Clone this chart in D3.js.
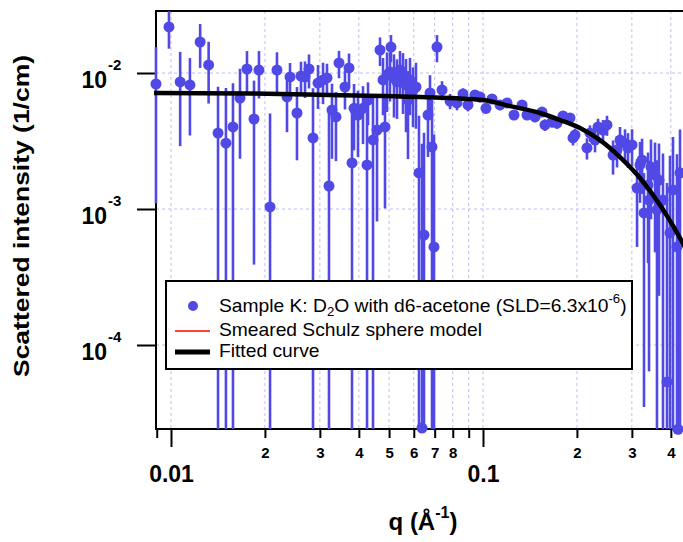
<!DOCTYPE html>
<html><head><meta charset="utf-8">
<script src="https://cdn.jsdelivr.net/npm/d3@7"></script>
<style>
body{margin:0;background:#fff}
svg{display:block}
text{font-family:"Liberation Sans",Arial,Helvetica,sans-serif}
</style>
</head><body>
<svg id="c" width="683" height="542"></svg>
<script>
// ---- data ----
const qVals = [0.00895,0.00985,0.0107,0.0115,0.0124,0.0132,0.01415,0.0150,0.0158,0.01664,
0.01752,0.01845,0.01914,0.02077,0.02186,0.02354,0.02407,0.02534,0.0261,0.02689,
0.02769,0.02852,0.02959,0.03071,0.03162,0.03209,0.03281,0.03379,0.03455,0.03611,
0.0372,0.03803,0.0386,0.03975,0.04125,0.04249,0.0428,0.04441,0.04574,0.04677,
0.04781,0.04852,0.04924,0.05034,0.05071,0.05185,0.05301,0.0542,0.05541,0.05665,
0.05749,0.05834,0.05965,0.06098,0.06235,0.06375,0.0647,0.06664,0.06763,0.06864,
0.06966,0.07122,0.07391,0.0784,0.08254,0.08627,0.08953,0.09428,0.09781,0.1022,
0.1069,0.1134,0.1194,0.1257,0.1334,0.1384,0.1468,0.1546,0.158,0.1664,
0.1727,0.1805,0.19,0.1943,0.1972,0.2154,0.2202,0.2286,0.2337,0.2425,
0.2497,0.2611,0.2689,0.2749,0.2852,0.2916,0.3004,0.3117,0.3186,0.3234,
0.3281,0.338,0.3405,0.3455,0.3559,0.3611,0.3665,0.3775,0.3888,0.3975,
0.4064,0.4186,0.4217,0.428];
const iVals = [0.0083,0.0218,0.0086,0.00817,0.0169,0.01146,0.00362,0.00305,0.00401,0.00654,
0.0107,0.00459,0.0105,0.001035,0.0105,0.00667,0.00935,0.00508,0.0095,0.00935,
0.0107,0.00333,0.00844,0.0089,0.0092,0.001476,0.00534,0.00475,0.01185,0.00789,
0.0109,0.00218,0.0055,0.00491,0.0055,0.00211,0.00633,0.00322,0.00381,0.01476,
0.00889,0.00401,0.00967,0.01017,0.0155,0.0092,0.0086,0.0105,0.0095,0.00817,
0.00633,0.0089,0.0075,0.00789,0.00184,0.0000245,0.000644,0.00491,0.00713,0.00286,
0.000526,0.0155,0.0075,0.00622,0.00602,0.00701,0.00582,0.00689,0.00667,0.0055,
0.00644,0.00582,0.00602,0.00491,0.00582,0.00491,0.00475,0.00516,0.00415,0.00437,
0.00428,0.00483,0.00467,0.00333,0.0035,0.00281,0.00362,0.00321,0.00401,0.00381,
0.00415,0.00249,0.00272,0.00321,0.00305,0.00281,0.00296,0.001426,0.00211,0.00229,
0.000935,0.0015,0.001164,0.00204,0.00178,0.000984,0.00163,0.001164,0.0000535,0.000667,
0.00138,0.000526,0.000024,0.00184];
const sigVals = [0.0072,0.0067,0.0057,0.0047,0.006,0.0055,0.0043,0.0047,0.0044,0.0042,
0.0038,0.0042,0.004,0.004,0.0037,0.003,0.0025,0.0028,0.0026,0.0028,
0.003,0.0044,0.003,0.003,0.0025,0.0039,0.003,0.0025,0.0027,0.0025,
0.003,0.003,0.0028,0.0025,0.0025,0.003,0.0022,0.0035,0.003,0.0035,
0.004,0.003,0.0045,0.004,0.0035,0.0045,0.004,0.004,0.0045,0.0045,
0.004,0.004,0.0035,0.004,0.003,0.003,0.003,0.0025,0.0025,0.0035,
0.003,0.0035,0.0012,0.0008,0.0007,0.0007,0.0006,0.0006,0.0006,0.0005,
0.0005,0.0005,0.0005,0.0004,0.0004,0.0004,0.0004,0.0004,0.0004,0.0004,
0.0004,0.0004,0.0004,0.0004,0.0004,0.0005,0.0005,0.0006,0.0006,0.0007,
0.0007,0.0007,0.0007,0.0008,0.0008,0.0008,0.0009,0.0009,0.001,0.001,
0.0009,0.0011,0.0011,0.0012,0.0013,0.0013,0.0014,0.0014,0.0015,0.0018,
0.002,0.002,0.002,0.002];

const fitQ = [0.0088,0.0179,0.0323,0.0628,0.1,0.122,0.1523,0.1766,0.2046,0.2371,0.2748,0.3186,0.3693,0.428,0.445];
const fitI = [0.00713,0.00707,0.00689,0.00666,0.00632,0.00571,0.00508,0.00451,0.00394,0.00321,0.00241,0.00169,0.00107,0.000612,0.00052];

const xMajorTicks = [0.01, 0.1];
const xMajorLabels = ["0.01", "0.1"];
const xMinorTicks = [0.009,0.02,0.03,0.04,0.05,0.06,0.07,0.08,0.09,0.2,0.3,0.4];
const xMinorLabels = ["","2","3","4","5","6","7","8","","2","3","4"];
const yTicks = [1e-2, 1e-3, 1e-4];
const yTickBase = "10";
const yTickExps = ["-2", "-3", "-4"];

const yTitle = "Scattered intensity (1/cm)";
const xTitleMain = "q (Å";
const xTitleSup = "-1";
const legendNames = ["Sample K: D", "Smeared Schulz sphere model", "Fitted curve"];

// ---- layout ----
const svg = d3.select("#c");
const L = 156, R = 683, T = 11, B = 429;
const x = d3.scaleLog().domain([0.01, 0.1]).range([171, 483]);
const y = d3.scaleLog().domain([1e-2, 1e-4]).range([73, 345]);
const blue = "#5049e6";
const gridCol = "#bcbcff";

// grid
const grid = svg.append("g");
grid.selectAll("line.vx").data(xMajorTicks.concat(xMinorTicks.filter(d=>d>0.0095))).enter()
  .append("line").attr("x1", d=>x(d)).attr("x2", d=>x(d)).attr("y1", T).attr("y2", B)
  .attr("stroke", gridCol).attr("stroke-width", 1).attr("stroke-dasharray", "3,3");
grid.selectAll("line.hy").data(yTicks).enter()
  .append("line").attr("x1", L).attr("x2", R).attr("y1", d=>y(d)).attr("y2", d=>y(d))
  .attr("stroke", gridCol).attr("stroke-width", 1).attr("stroke-dasharray", "3,3");

// axes
const axMinor = svg.append("g").attr("transform", `translate(0,${B})`)
  .call(d3.axisBottom(x).tickValues(xMinorTicks).tickSize(9).tickPadding(9)
        .tickFormat((d,i)=>xMinorLabels[i]));
axMinor.select(".domain").remove();
axMinor.selectAll("line").attr("stroke","#000").attr("stroke-width",2);
axMinor.selectAll("text").attr("font-size",15).attr("font-weight","bold").attr("fill","#000")
  .style("font-family",'"Liberation Sans",Arial,sans-serif');

const axMajor = svg.append("g").attr("transform", `translate(0,${B})`)
  .call(d3.axisBottom(x).tickValues(xMajorTicks).tickSize(18).tickPadding(19)
        .tickFormat((d,i)=>xMajorLabels[i]));
axMajor.select(".domain").remove();
axMajor.selectAll("line").attr("stroke","#000").attr("stroke-width",2);
axMajor.selectAll("text").attr("font-size",23).attr("font-weight","bold").attr("fill","#000")
  .style("font-family",'"Liberation Sans",Arial,sans-serif');

const axY = svg.append("g").attr("transform", `translate(${L},0)`)
  .call(d3.axisLeft(y).tickValues(yTicks).tickSize(19).tickFormat(""));
axY.select(".domain").remove();
axY.selectAll("line").attr("stroke","#000").attr("stroke-width",2);
const yl = svg.append("g").attr("font-weight","bold").attr("fill","#000");
yTicks.forEach((v,i)=>{
  yl.append("text").attr("x",107).attr("y",y(v)+15).attr("text-anchor","end")
    .attr("font-size",23).text(yTickBase);
  yl.append("text").attr("x",108).attr("y",y(v)-3).attr("text-anchor","start")
    .attr("font-size",15).text(yTickExps[i]);
});

// frame lines
const frame = svg.append("g").attr("stroke","#000").attr("stroke-width",2);
frame.append("line").attr("x1",L).attr("x2",L).attr("y1",T-1).attr("y2",B+1);
frame.append("line").attr("x1",L-1).attr("x2",R).attr("y1",B).attr("y2",B);
frame.append("line").attr("x1",L-1).attr("x2",R).attr("y1",T).attr("y2",T);

// titles
svg.append("text").attr("transform","translate(29,216) rotate(-90)")
  .attr("text-anchor","middle").attr("font-size",22).attr("font-weight","bold")
  .attr("textLength",322).attr("lengthAdjust","spacingAndGlyphs").text(yTitle);
const xt = svg.append("text").attr("x",423).attr("y",530).attr("text-anchor","middle")
  .attr("font-size",24).attr("font-weight","bold");
xt.append("tspan").text(xTitleMain);
xt.append("tspan").attr("font-size",16).attr("dy",-12).text(xTitleSup);
xt.append("tspan").attr("dy",12).text(")");

// data
svg.append("clipPath").attr("id","pc").append("rect")
  .attr("x",L-2).attr("y",T).attr("width",R-L+2).attr("height",B-T);
const data = qVals.map((q,i)=>({q, I:iVals[i], s:sigVals[i]}));
const dg = svg.append("g");
dg.append("g").attr("clip-path","url(#pc)").selectAll("line").data(data).enter().append("line")
  .attr("x1",d=>x(d.q)).attr("x2",d=>x(d.q))
  .attr("y1",d=>y(d.I+d.s))
  .attr("y2",d=> (d.I-d.s) > 0 ? y(d.I-d.s) : B+5)
  .attr("stroke",blue).attr("stroke-width",2.6);
dg.append("g").selectAll("circle").data(data).enter().append("circle")
  .attr("cx",d=>x(d.q)).attr("cy",d=>y(d.I)).attr("r",5.5).attr("fill",blue);

// fitted curve
const line = d3.line().x((d,i)=>x(fitQ[i])).y((d,i)=>y(fitI[i])).curve(d3.curveMonotoneX);
svg.append("g").attr("clip-path","url(#pc)").append("path").datum(fitQ).attr("d",line)
  .attr("fill","none").attr("stroke","#000").attr("stroke-width",4.5);

// legend
const lg = svg.append("g");
lg.append("rect").attr("x",166).attr("y",281).attr("width",466).attr("height",88)
  .attr("fill","#fff").attr("stroke","#000").attr("stroke-width",2);
lg.append("circle").attr("cx",193).attr("cy",306).attr("r",5).attr("fill",blue);
lg.append("line").attr("x1",175).attr("x2",210).attr("y1",331).attr("y2",331)
  .attr("stroke","#ff0000").attr("stroke-width",1.5);
lg.append("line").attr("x1",175).attr("x2",210).attr("y1",352).attr("y2",352)
  .attr("stroke","#000").attr("stroke-width",5);
const t1 = lg.append("text").attr("transform","translate(219,312) scale(1.1,1)").attr("font-size",17.5);
t1.append("tspan").text(legendNames[0]);
t1.append("tspan").attr("font-size",12).attr("dy",4).text("2");
t1.append("tspan").attr("dy",-4).text("O with d6-acetone (SLD=6.3x10");
t1.append("tspan").attr("font-size",12).attr("dy",-9).text("-6");
t1.append("tspan").attr("dy",9).text(")");
lg.append("text").attr("transform","translate(219,336) scale(1.1,1)").attr("font-size",17.5).text(legendNames[1]);
lg.append("text").attr("transform","translate(219,357) scale(1.1,1)").attr("font-size",17.5).text(legendNames[2]);
</script>
</body></html>
